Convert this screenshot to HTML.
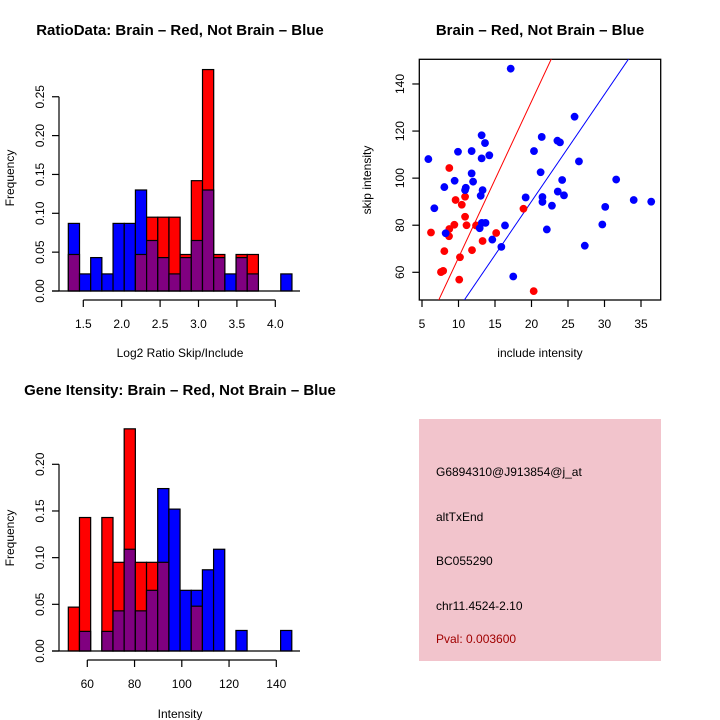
<!DOCTYPE html>
<html><head><meta charset="utf-8"><style>
html,body{margin:0;padding:0;background:#fff;}
svg{display:block;font-family:"Liberation Sans",Helvetica,Arial,sans-serif;}
</style></head><body>
<svg id="chart" width="720" height="720" viewBox="0 0 720 720" xmlns="http://www.w3.org/2000/svg">
<rect x="0" y="0" width="720" height="720" fill="#fff"/>
<g id="p1"></g>
<g id="p2"></g>
<g id="p3"></g>
<g id="p4">
<rect x="419" y="419" width="242" height="242" fill="#f2c4cc"/>
<text x="436" y="476" font-size="12" fill="#000">G6894310@J913854@j_at</text>
<text x="436" y="521" font-size="12" fill="#000">altTxEnd</text>
<text x="436" y="565" font-size="12" fill="#000">BC055290</text>
<text x="436" y="610" font-size="12" fill="#000">chr11.4524-2.10</text>
<text x="436" y="643" font-size="12" fill="#a00000">Pval: 0.003600</text>
</g>
</svg>
<script>
// ---- Ratio histogram data ----
const ratioBinStart = 1.305;
const ratioBinWidth = 0.1456;
const ratioBlue = [0.087,0.022,0.043,0.022,0.087,0.087,0.130,0.065,0.043,0.022,0.043,0.065,0.130,0.043,0.022,0.043,0.022,0,0,0.022];
const ratioRed  = [0.047,0,0,0,0,0,0.047,0.095,0.095,0.095,0.047,0.142,0.285,0.047,0,0.047,0.047,0,0,0];
const ratioXTicks = [1.5,2.0,2.5,3.0,3.5,4.0];
const ratioYTicks = [0,0.05,0.10,0.15,0.20,0.25];
const ratioXLabels = ["1.5","2.0","2.5","3.0","3.5","4.0"];
const ratioYLabels = ["0.00","0.05","0.10","0.15","0.20","0.25"];
// ---- Gene intensity histogram data ----
const intBinStart = 51.96;
const intBinWidth = 4.73;
const intBlue = [0,0.021,0,0.021,0.043,0.109,0.043,0.065,0.174,0.152,0.065,0.065,0.087,0.109,0,0.022,0,0,0,0.022];
const intRed  = [0.047,0.143,0,0.143,0.095,0.238,0.095,0.095,0.095,0,0,0.048,0,0,0,0,0,0,0,0];
const intXTicks = [60,80,100,120,140];
const intYTicks = [0,0.05,0.10,0.15,0.20];
const intYLabels = ["0.00","0.05","0.10","0.15","0.20"];
// ---- Scatter data ----
const blueX = [17.15,5.87,9.93,11.8,13.17,13.63,14.22,13.17,11.8,12.0,9.47,8.06,11.0,10.9,13.3,13.04,6.69,8.24,12.9,13.2,13.7,16.37,14.63,15.87,17.5,19.2,20.34,21.4,21.25,21.5,21.5,22.8,22.1,23.6,23.55,23.9,24.2,24.45,25.9,26.5,27.3,29.7,30.1,31.6,34.0,36.4];
const blueY = [146.5,108.1,111.2,111.5,118.2,114.9,109.7,108.4,102.0,98.5,98.9,96.2,95.9,94.9,94.9,92.5,87.2,76.6,78.7,81.0,81.0,79.9,73.9,70.8,58.2,91.8,111.5,117.5,102.5,92.0,89.9,88.3,78.2,94.3,115.9,115.2,99.2,92.7,126.1,107.1,71.3,80.3,87.8,99.4,90.7,90.0];
const redX = [6.23,8.74,9.6,10.9,10.45,10.9,11.1,9.43,8.74,8.7,8.06,11.85,10.2,7.6,7.9,10.1,12.4,13.3,15.16,18.9,20.3];
const redY = [76.9,104.3,90.7,92.1,88.7,83.6,80.0,80.2,78.4,75.3,69.0,69.4,66.4,60.1,60.6,56.9,79.9,73.3,76.7,87.0,52.0];
const redFit = [-0.2, 6.64];   // intercept, slope
const blueFit = [-0.9, 4.55];
const scXTicks = [5,10,15,20,25,30,35];
const scYTicks = [60,80,100,120,140];

const NS="http://www.w3.org/2000/svg";
function mk(parent,tag,attrs,text){const e=document.createElementNS(NS,tag);for(const k in attrs)e.setAttribute(k,attrs[k]);if(text!==undefined)e.textContent=text;parent.appendChild(e);return e;}

function hist(g,o){
  const sx=v=>o.x0px+(v-o.x0)*o.kx, sy=v=>o.y0px-v*o.ky;
  for(let i=0;i<o.blue.length;i++){
    const b=o.blue[i], r=o.red[i];
    const xl=sx(o.start+i*o.width), w=o.width*o.kx;
    const hi=Math.max(b,r), lo=Math.min(b,r);
    if(hi>0){
      const e=mk(g,'rect',{x:xl,y:sy(hi),width:w,height:sy(0)-sy(hi),fill:b>=r?'#0000ff':'#ff0000',stroke:'#000','stroke-width':1.2});
      
      
    }
    if(lo>0){
      const e=mk(g,'rect',{x:xl,y:sy(lo),width:w,height:sy(0)-sy(lo),fill:'#800080',stroke:'#000','stroke-width':1.2});
      
      
    }
  }
  const base=mk(g,'line',{x1:52,x2:300,y1:sy(0),y2:sy(0),stroke:'#000','stroke-width':1.3});
  
  
  const yt=o.yticks;
  const ya=mk(g,'line',{x1:59,x2:59,y1:sy(yt[0]),y2:sy(yt[yt.length-1]),stroke:'#000','stroke-width':1.2});
  
  
  yt.forEach((v,i)=>{
    mk(g,'line',{x1:52,x2:59,y1:sy(v),y2:sy(v),stroke:'#000','stroke-width':1.2});
    const t=mk(g,'text',{x:44,y:sy(v),'font-size':12,'text-anchor':'middle',transform:`rotate(-90 44 ${sy(v)})`},o.ylabels[i]);
    
    
  });
  const xt=o.xticks, ay=o.y0px+9;
  const xa=mk(g,'line',{x1:sx(xt[0]),x2:sx(xt[xt.length-1]),y1:ay,y2:ay,stroke:'#000','stroke-width':1.2});
  
  
  xt.forEach((v,i)=>{
    mk(g,'line',{x1:sx(v),x2:sx(v),y1:ay,y2:ay+7,stroke:'#000','stroke-width':1.2});
    const t=mk(g,'text',{x:sx(v),y:ay+28,'font-size':12,'text-anchor':'middle'},o.xlabels[i]);
    
    
  });
  const tt=mk(g,'text',{x:180,y:o.titleY,'font-size':15,'font-weight':'bold','text-anchor':'middle'},o.title);
  
  
  const yl=mk(g,'text',{x:14,y:o.ylabY,'font-size':12,'text-anchor':'middle',transform:`rotate(-90 14 ${o.ylabY})`},'Frequency');
  
  
  const xl=mk(g,'text',{x:180,y:o.xlabY,'font-size':12,'text-anchor':'middle'},o.xlab);
  
  
}

hist(document.getElementById('p1'),{blue:ratioBlue,red:ratioRed,start:ratioBinStart,width:ratioBinWidth,
  x0:1.5,x0px:83.3,kx:76.8,y0px:291,ky:777,xticks:ratioXTicks,yticks:ratioYTicks,xlabels:ratioXLabels,ylabels:ratioYLabels,
  title:'RatioData: Brain \u2013 Red, Not Brain \u2013 Blue',titleY:35,ylabY:178,xlab:'Log2 Ratio Skip/Include',xlabY:357});
hist(document.getElementById('p3'),{blue:intBlue,red:intRed,start:intBinStart,width:intBinWidth,
  x0:60,x0px:87.3,kx:2.3625,y0px:651,ky:933.5,xticks:intXTicks,yticks:intYTicks,xlabels:intXTicks.map(String),ylabels:intYLabels,
  title:'Gene Itensity: Brain \u2013 Red, Not Brain \u2013 Blue',titleY:395,ylabY:538,xlab:'Intensity',xlabY:718});

(function(){
  const g=document.getElementById('p2');
  const sx=v=>422+(v-5)*7.3, sy=v=>272.3-(v-60)*2.354;
  const L=419.3,R=660.7,T=59.3,B=300;
  const cp=mk(g,'clipPath',{id:'scclip'});mk(cp,'rect',{x:L,y:T,width:R-L,height:B-T});
  const fr=mk(g,'rect',{x:L,y:T,width:R-L,height:B-T,fill:'none',stroke:'#000','stroke-width':1.3});
  
  
  [[redFit,'#ff0000','red-fit-line'],[blueFit,'#0000ff','blue-fit-line']].forEach(([f,c,n])=>{
    const x1=0,x2=40;
    const l=mk(g,'line',{x1:sx(x1),y1:sy(f[0]+f[1]*x1),x2:sx(x2),y2:sy(f[0]+f[1]*x2),stroke:c,'stroke-width':1,'clip-path':'url(#scclip)'});
    
    
  });
  redX.forEach((x,i)=>{
    const p=mk(g,'circle',{cx:sx(x),cy:sy(redY[i]),r:3.9,fill:'#ff0000'});
    
    
  });
  blueX.forEach((x,i)=>{
    const p=mk(g,'circle',{cx:sx(x),cy:sy(blueY[i]),r:3.9,fill:'#0000ff'});
    
    
  });
  scXTicks.forEach(v=>{
    mk(g,'line',{x1:sx(v),x2:sx(v),y1:B,y2:B+7,stroke:'#000','stroke-width':1.2});
    const t=mk(g,'text',{x:sx(v),y:B+28,'font-size':12,'text-anchor':'middle'},String(v));
    
    
  });
  scYTicks.forEach(v=>{
    mk(g,'line',{x1:L-7,x2:L,y1:sy(v),y2:sy(v),stroke:'#000','stroke-width':1.2});
    const t=mk(g,'text',{x:404,y:sy(v),'font-size':12,'text-anchor':'middle',transform:`rotate(-90 404 ${sy(v)})`},String(v));
    
    
  });
  const tt=mk(g,'text',{x:540,y:35,'font-size':15,'font-weight':'bold','text-anchor':'middle'},'Brain \u2013 Red, Not Brain \u2013 Blue');
  
  
  const yl=mk(g,'text',{x:371,y:180,'font-size':12,'text-anchor':'middle',transform:'rotate(-90 371 180)'},'skip intensity');
  
  
  const xl=mk(g,'text',{x:540,y:357,'font-size':12,'text-anchor':'middle'},'include intensity');
  
  
})();
</script>
</body></html>
